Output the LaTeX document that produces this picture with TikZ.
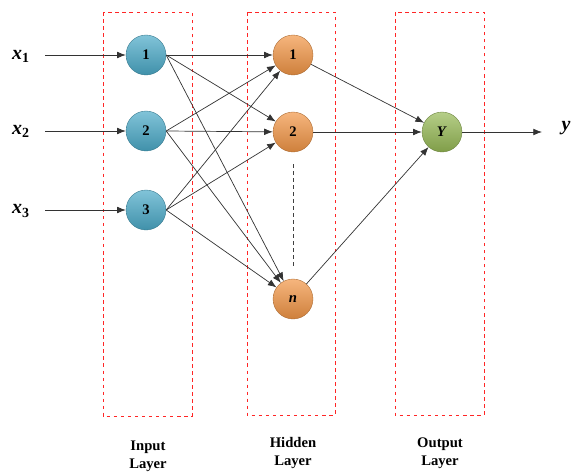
\documentclass[tikz,border=0pt]{standalone}
\usepackage{fontspec}
\setmainfont{Liberation Serif}
\usetikzlibrary{arrows.meta}

\definecolor{inblue}{RGB}{75,170,200}
\definecolor{hidorange}{RGB}{242,150,70}
\definecolor{outgreen}{RGB}{150,185,85}

\begin{document}
\begin{tikzpicture}[x=0.03cm, y=-0.03cm, every node/.style={font=\fontsize{12.5}{15}\selectfont\bfseries},
  neuron/.style={circle, minimum size=1.2cm, inner sep=0pt, draw=#1!70!black, line width=0.3pt,
    top color=#1!70!white, bottom color=#1!85!black},
  varlabel/.style={font=\fontsize{17}{19}\selectfont\bfseries},
  layerbox/.style={draw=red!85!white, dashed, line width=0.5pt},
  conn/.style={draw=black!80, line width=0.6pt, -{Latex[length=2.6mm,width=2mm]}}]
  \useasboundingbox (0,0) rectangle (571,475);
  % layer frames
  \draw[layerbox] (103,12) rectangle (192,416);
  \draw[layerbox] (247,12) rectangle (335,415);
  \draw[layerbox] (395,12) rectangle (484,415);
  % input layer
  \node[varlabel] (X1) at (21,56) {\textit{x}$_{\mathbf 1}$};
  \node[varlabel] (X2) at (21,131) {\textit{x}$_{\mathbf 2}$};
  \node[varlabel] (X3) at (21,211) {\textit{x}$_{\mathbf 3}$};
  \coordinate (X1s) at (45,55); \coordinate (X2s) at (45,131); \coordinate (X3s) at (45,210);
  \node[neuron=inblue] (I1) at (146,55) {1};
  \node[neuron=inblue] (I2) at (146,131) {2};
  \node[neuron=inblue] (I3) at (146,210) {3};
  % hidden layer
  \node[neuron=hidorange] (H1) at (293,55) {1};
  \node[neuron=hidorange] (H2) at (293,132) {2};
  \node[neuron=hidorange] (Hn) at (293,299) {\textit{n}};
  % output layer
  \node[neuron=outgreen] (Y) at (442,132) {\textit{Y}};
  \node[varlabel] (Yout) at (566,128) {\textit{y}};
  \coordinate (Yend) at (542,132);
  \draw[conn] (X1s) -- (I1);
  \draw[conn] (X2s) -- (I2);
  \draw[conn] (X3s) -- (I3);
  \draw[conn] (I1.east) -- (H1); \draw[conn] (I1.east) -- (H2); \draw[conn] (I1.east) -- (Hn);
  \draw[conn] (I2.east) -- (H1); \draw[conn] (I2.east) -- (H2); \draw[conn] (I2.east) -- (Hn);
  \draw[conn] (I3.east) -- (H1); \draw[conn] (I3.east) -- (H2); \draw[conn] (I3.east) -- (Hn);
  \draw[conn] (H1) -- (Y); \draw[conn] (H2) -- (Y); \draw[conn] (Hn) -- (Y);
  \draw[conn] (Y) -- (Yend);
  \coordinate (Hdots1) at (293,164); \coordinate (Hdots2) at (293,269);
  \draw[black!75, dashed, line width=0.8pt] (Hdots1) -- (Hdots2);
  % layer names
  \node[align=center] (LIn) at (148,456) {Input\\Layer};
  \node[align=center] (LHid) at (293,453) {Hidden\\Layer};
  \node[align=center] (LOut) at (440,453) {Output\\Layer};
\end{tikzpicture}
\end{document}
